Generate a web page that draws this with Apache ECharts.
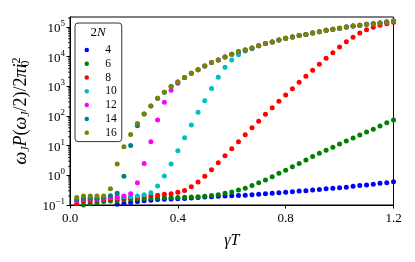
<!DOCTYPE html>
<html><head><meta charset="utf-8">
<script src="https://cdn.jsdelivr.net/npm/echarts@6/dist/echarts.min.js"></script>
<style>html,body{margin:0;padding:0;background:#fff}#c{width:415px;height:262px}</style>
</head><body><div id="c"></div>
<script>
// ---- data ----
const gammaT = [0.025,0.05,0.075,0.1,0.125,0.15,0.175,0.2,0.225,0.25,0.275,0.3,0.325,0.35,0.375,0.4,
  0.425,0.45,0.475,0.5,0.525,0.55,0.575,0.6,0.625,0.65,0.675,0.7,0.725,0.75,0.775,0.8,
  0.825,0.85,0.875,0.9,0.925,0.95,0.975,1.0,1.025,1.05,1.075,1.1,1.125,1.15,1.175,1.2];
const n4 = [0.064,0.07,0.076,0.083,0.09,0.097,0.105,0.113,0.122,0.13,0.138,0.145,0.152,0.157,0.16,0.163,
  0.167,0.172,0.178,0.185,0.19,0.196,0.2,0.205,0.21,0.215,0.22,0.23,0.24,0.25,0.26,0.27,
  0.28,0.295,0.3,0.32,0.33,0.35,0.365,0.38,0.4,0.43,0.45,0.47,0.5,0.54,0.56,0.61];
const n6 = [0.09,0.1,0.11,0.12,0.13,0.136,0.14,0.148,0.155,0.16,0.165,0.17,0.172,0.175,0.178,0.18,
  0.183,0.186,0.19,0.196,0.21,0.22,0.25,0.275,0.32,0.37,0.45,0.56,0.70,0.9,1.17,1.48,
  1.95,2.5,3.3,4.3,5.5,6.95,8.8,11.4,14.4,18,23,29,36,46,59,73];
const n8 = [0.11,0.13,0.14,0.148,0.155,0.16,0.165,0.17,0.175,0.18,0.2,0.21,0.215,0.23,0.24,0.27,
  0.31,0.41,0.6,0.93,1.55,2.67,4.6,7.9,13.6,23.4,40,67,114,190,313,510,
  830,1360,2200,3470,5500,8800,13500,21100,31600,45400,62500,80000,98000,115000,129000,145000];
const n10 = [0.15,0.16,0.17,0.17,0.175,0.18,0.18,0.19,0.19,0.2,0.22,0.26,0.44,0.95,2.4,6.7,
  18.6,50,133,327,850,2040,4360,7760,11500,15500,18600,23400,27500,30900,36300,41700,
  45700,51300,56200,63100,69200,77600,83200,90200,100000,107000,115000,123000,129000,135000,148000,158000];
const n12 = [0.14,0.15,0.16,0.16,0.17,0.18,0.19,0.2,0.24,0.56,2.5,13.5,73,290,735,1260,
  2000,2750,3630,4840,6300,7760,9770,12000,14500,16600,19500,23400,27500,30900,36300,41700,
  45700,51300,56200,63100,69200,77600,83200,90200,100000,107000,115000,123000,129000,135000,148000,158000];
const n14 = [0.15,0.17,0.17,0.17,0.18,0.206,0.25,0.93,10.1,47,117,218,400,630,980,1400,
  2000,2750,3630,4840,6300,7760,9770,12000,14500,16600,19500,23400,27500,30900,36300,41700,
  45700,51300,56200,63100,69200,77600,83200,90200,100000,107000,115000,123000,129000,135000,148000,158000];
const n16 = [0.18,0.2,0.2,0.2,0.2,0.35,2.4,9.2,24,56,117,218,400,630,980,1400,
  2000,2750,3630,4840,6300,7760,9770,12000,14500,16600,19500,23400,27500,30900,36300,41700,
  45700,51300,56200,63100,69200,77600,83200,90200,100000,107000,115000,123000,129000,135000,148000,158000];
const seriesNames = ['4','6','8','10','12','14','16'];
const seriesValues = [n4,n6,n8,n10,n12,n14,n16];
const xTicks = [0, 0.4, 0.8, 1.2];
const yDecades = [-1,0,1,2,3,4,5];
const yMinValue = 0.1, yMaxValue = 2.17e5;

// ---- styles ----
const colors = ['#0000ff','#008000','#ff0000','#00bfbf','#ff00ff','#008080','#808000'];
const serif = '"Liberation Serif", "DejaVu Serif", serif';

const yMin = Math.log10(yMinValue), yMax = Math.log10(yMaxValue);
const minorTicks = [];
for (const d of yDecades) for (let k = 2; k <= 9; k++) {
  const v = Math.log10(k) + d; if (v < yMax) minorTicks.push([0, v]);
}

const scatterSeries = seriesNames.map((name, si) => ({
  type: 'scatter', name: name,
  data: gammaT.map((x, i) => [x, Math.log10(seriesValues[si][i])]),
  symbol: 'circle', symbolSize: 5,
  itemStyle: { color: colors[si], opacity: 1 },
  clip: true, z: 2 + si
}));

const chart = echarts.init(document.getElementById('c'), null, { renderer: 'canvas' });
chart.setOption({
  animation: false,
  backgroundColor: '#fff',
  grid: { left: 70, right: 21.5, top: 17, bottom: 57, show: true, borderColor: '#000', borderWidth: 1, backgroundColor: 'transparent' },
  xAxis: {
    type: 'value', min: 0, max: 1.2, interval: 0.4,
    axisLine: { onZero: false, lineStyle: { color: '#000', width: 1 } },
    axisTick: { length: 3.5, lineStyle: { color: '#000' }, customValues: xTicks },
    axisLabel: { customValues: xTicks, formatter: v => v.toFixed(1), color: '#000', fontFamily: serif, fontSize: 13, margin: 7 },
    splitLine: { show: false },
    name: '{i|γT}', nameLocation: 'middle', nameGap: 28,
    nameTextStyle: { rich: { i: { fontFamily: serif, fontStyle: 'italic', fontSize: 16, color: '#000' } } }
  },
  yAxis: {
    type: 'value', min: yMin, max: yMax,
    axisLine: { onZero: false, lineStyle: { color: '#000', width: 1 } },
    axisTick: { length: 3.5, lineStyle: { color: '#000' }, customValues: yDecades },
    axisLabel: {
      customValues: yDecades, margin: 5, color: '#000',
      formatter: v => { const n = Math.round(v); return '{b|10}{s|' + (n < 0 ? '\u2212' + (-n) : n) + '}'; },
      rich: {
        b: { fontFamily: serif, fontSize: 13, lineHeight: 16, color: '#000', verticalAlign: 'bottom' },
        s: { fontFamily: serif, fontSize: 9, lineHeight: 9, color: '#000', verticalAlign: 'top' }
      }
    },
    splitLine: { show: false },
    name: '{i|ω}{sb|J}{i|P}{r|(}{i|ω}{sb|J}{r|/2)/2}{i|πi}{sb0|0}{sp|2}',
    nameLocation: 'middle', nameGap: 34, nameRotate: 90,
    nameTextStyle: {
      rich: {
        i: { fontFamily: serif, fontStyle: 'italic', fontSize: 18, lineHeight: 21, color: '#000', verticalAlign: 'middle' },
        r: { fontFamily: serif, fontSize: 18, lineHeight: 21, color: '#000', verticalAlign: 'middle' },
        sb: { fontFamily: serif, fontStyle: 'italic', fontSize: 12, lineHeight: 11, color: '#000', verticalAlign: 'bottom' },
        sb0: { fontFamily: serif, fontSize: 12, lineHeight: 11, width: 0, color: '#000', verticalAlign: 'bottom' },
        sp: { fontFamily: serif, fontSize: 12, lineHeight: 11, color: '#000', verticalAlign: 'top' }
      }
    }
  },
  legend: {
    data: seriesNames, orient: 'vertical', left: 75, top: 23,
    padding: [20, 5, 2, 9.5], itemGap: 0, itemWidth: 7, itemHeight: 4.5, icon: 'circle',
    backgroundColor: '#fff', borderColor: '#333', borderWidth: 1, borderRadius: 3,
    textStyle: { fontFamily: serif, fontSize: 11.5, color: '#000', lineHeight: 13.8, padding: [0, 0, 0, 10] },
    selectedMode: false
  },
  graphic: [{
    type: 'text', x: 98, y: 33, z: 100,
    style: { text: '{n|2}{i|N}', align: 'center', verticalAlign: 'middle',
      rich: { n: { fontFamily: serif, fontSize: 13, fill: '#000' }, i: { fontFamily: serif, fontStyle: 'italic', fontSize: 13, fill: '#000' } } }
  }],
  series: scatterSeries.concat([{
    type: 'custom', name: 'minor', silent: true, clip: false, z: 1,
    data: minorTicks,
    renderItem: (params, api) => {
      const p = api.coord([api.value(0), api.value(1)]);
      return { type: 'line', shape: { x1: p[0] - 2, y1: p[1], x2: p[0], y2: p[1] }, style: { stroke: '#000', lineWidth: 0.8 } };
    }
  }])
});
</script></body></html>
